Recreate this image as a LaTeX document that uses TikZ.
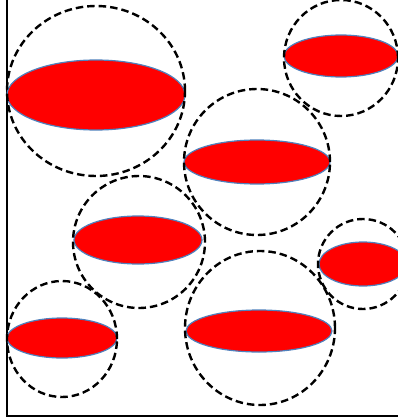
\documentclass[tikz,border=0pt]{standalone}
\usepackage{tikz}
\definecolor{dropred}{RGB}{255,0,0}
\definecolor{dropedge}{RGB}{79,129,189}

\begin{document}
\begin{tikzpicture}[
  x=1pt,y=-1pt,
  ring/.style={draw=black,line width=2.4pt,dash pattern=on 7.5pt off 4pt},
  drop/.style={fill=dropred,draw=dropedge,line width=1.2pt},
  frame/.style={draw=black,line width=2.5pt}
]
\useasboundingbox (0,0) rectangle (398,420);
\clip (0,0) rectangle (398,420);

% outer box (left and bottom sides)
\draw[frame] (7,-5) -- (7,416) -- (405,416);

% droplets: ellipse centre/radii, then ring centre/radii
\foreach \ex/\ey/\rx/\ry/\cx/\cy/\qx/\qy in {
  96/95/89/35/96/91/89/85,
  341/56/57/21/341/58/57/58,
  257/162/73/22/257/162/73/73,
  138/240/64/24/139/242/66/66,
  363/264/44/22/363/264/45/45,
  259/331/73/21/260/328/75/77,
  62/338/55/20/62/339/55/58} {
  \draw[drop] (\ex,\ey) ellipse [x radius=\rx pt, y radius=\ry pt];
  \draw[ring] (\cx,\cy) ellipse [x radius=\qx pt, y radius=\qy pt];
}

\end{tikzpicture}
\end{document}
